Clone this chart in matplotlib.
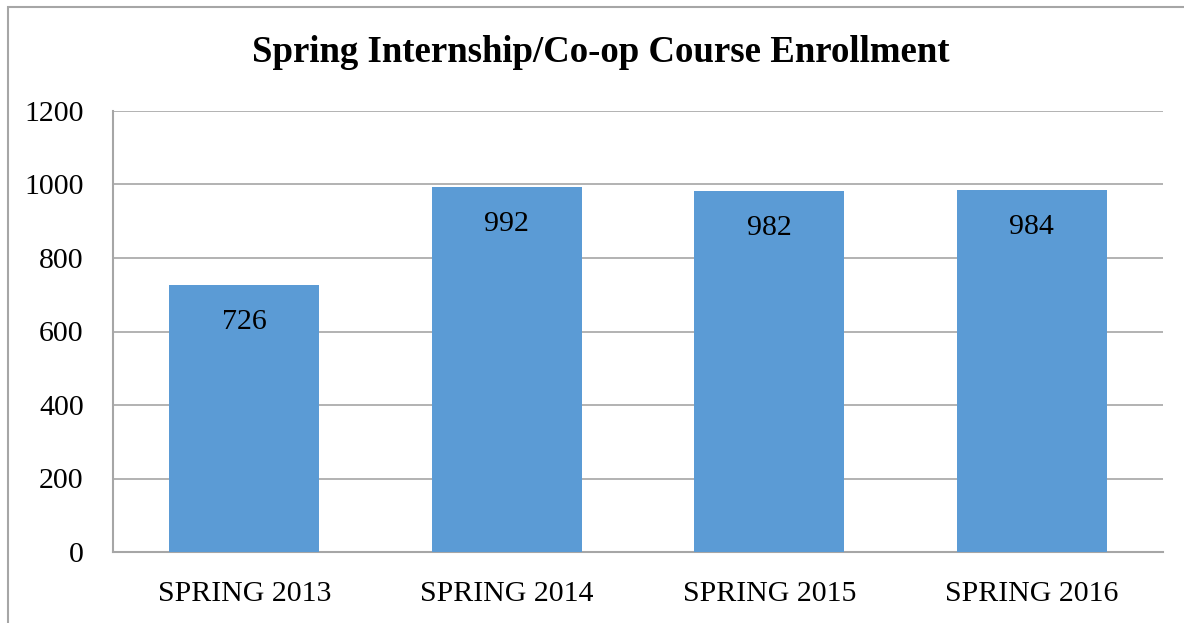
import matplotlib
matplotlib.use("Agg")
import matplotlib.pyplot as plt
from matplotlib.patches import Rectangle

categories = ["SPRING 2013", "SPRING 2014", "SPRING 2015", "SPRING 2016"]
values = [726, 992, 982, 984]
yticks = [0, 200, 400, 600, 800, 1000, 1200]

plt.rcParams['font.family'] = ['Liberation Serif', 'DejaVu Serif']

W, H = 1184, 623
fig = plt.figure(figsize=(W/100, H/100), dpi=100)
ax = fig.add_axes([113/W, 1 - 552/H, (1163-113)/W, (552-111)/H])

x = list(range(len(categories)))
bars = ax.bar(x, values, width=0.57, color='#5b9bd5', zorder=3)
ax.set_xlim(-0.5, 3.5)
ax.set_ylim(0, 1200)
ax.set_yticks(yticks)
ax.set_yticklabels([str(t) for t in yticks], fontsize=21.5)
ax.set_xticks(x)
ax.set_xticklabels(categories, fontsize=21.5)
ax.tick_params(axis='both', length=0, colors='black')
ax.tick_params(axis='y', pad=21)
ax.tick_params(axis='x', pad=21)
ax.yaxis.grid(True, color='#a6a6a6', linewidth=1.2, zorder=0)
for s in ['top', 'right']:
    ax.spines[s].set_visible(False)
for s in ['left', 'bottom']:
    ax.spines[s].set_color('#a6a6a6')
    ax.spines[s].set_linewidth(1.5)

for xi, v in zip(x, values):
    ax.annotate(str(v), (xi, v), xytext=(0, -37), textcoords='offset pixels',
                ha='center', va='center', fontsize=21.5)

fig.text(601/W, 1 - 52/H, "Spring Internship/Co-op Course Enrollment",
         ha='center', va='center', fontsize=26.5, fontweight='bold')

fig.patches.append(Rectangle((8/W, -0.1), 1.2, 1 - 7/H + 0.1, transform=fig.transFigure,
                             fill=False, edgecolor='#a6a6a6', linewidth=1.5))

fig.savefig("out.png", dpi=100)
